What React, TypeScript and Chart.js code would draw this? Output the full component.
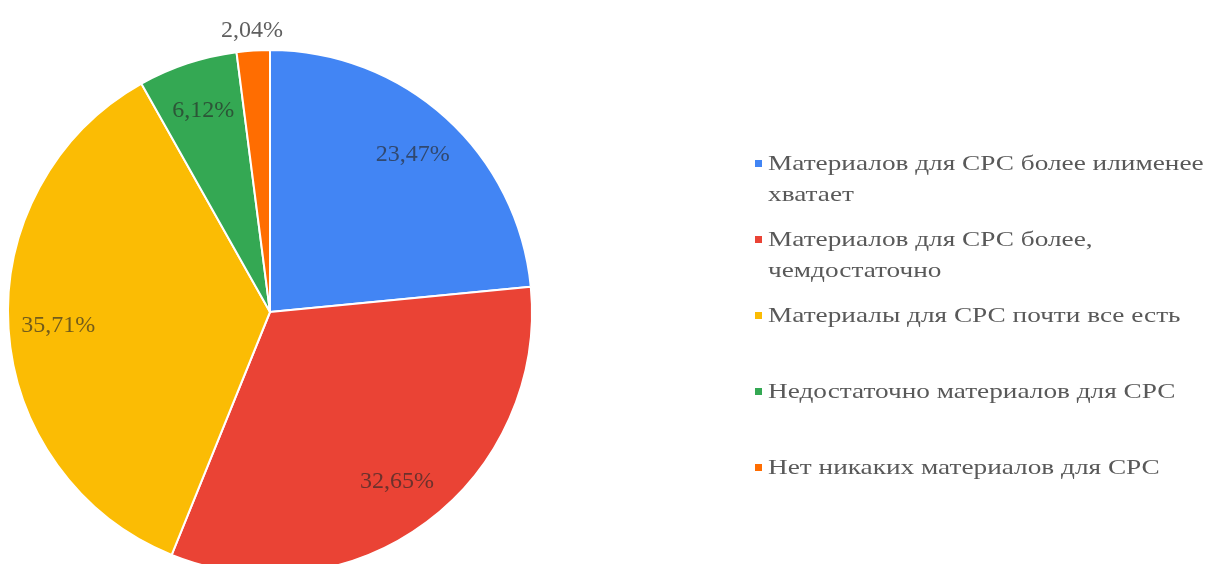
import React, { useEffect, useRef } from "react";
import { Chart, registerables } from "chart.js";

Chart.register(...registerables);

const categories: string[][] = [
  ["Материалов для СРС более илименее", "хватает"],
  ["Материалов для СРС более,", "чемдостаточно"],
  ["Материалы для СРС почти все есть"],
  ["Недостаточно материалов для СРС"],
  ["Нет никаких материалов для СРС"],
];
const counts: number[] = [23, 32, 35, 6, 2];
const percentLabels: string[] = ["23,47%", "32,65%", "35,71%", "6,12%", "2,04%"];
const colors: string[] = ["#4285F4", "#EA4335", "#FBBC04", "#34A853", "#FF6D01"];

const FONT = "'Liberation Serif', 'Times New Roman', serif";

const sliceLabels = {
  id: "sliceLabels",
  afterDatasetsDraw(chart: any) {
    const ctx = chart.ctx;
    const meta = chart.getDatasetMeta(0);
    const total = counts.reduce((a, b) => a + b, 0);
    ctx.save();
    ctx.font = `24px ${FONT}`;
    ctx.textAlign = "center";
    ctx.textBaseline = "middle";
    meta.data.forEach((arc: any, i: number) => {
      const { x, y, startAngle, endAngle, outerRadius } = arc.getProps(
        ["x", "y", "startAngle", "endAngle", "outerRadius"],
        true
      );
      const mid = (startAngle + endAngle) / 2;
      const small = counts[i] / total < 0.03;
      const r = small ? outerRadius + 20 : outerRadius * 0.81;
      ctx.fillStyle = small ? "#5f5f5f" : "rgba(40,40,40,0.65)";
      ctx.fillText(percentLabels[i], x + Math.cos(mid) * r, y + Math.sin(mid) * r);
    });
    ctx.restore();
  },
};

const sideLegend = {
  id: "sideLegend",
  afterDraw(chart: any) {
    const ctx = chart.ctx;
    const startY = 164;
    const step = 76;
    const lineGap = 31;
    const textX = 768;
    const stretch = 1.24;
    chart.data.labels.forEach((lines: string[], i: number) => {
      const y0 = startY + i * step;
      ctx.save();
      ctx.fillStyle = colors[i];
      ctx.fillRect(textX - 13, y0 - 4, 7, 7);
      ctx.restore();
      lines.forEach((ln: string, j: number) => {
        ctx.save();
        ctx.font = `22px ${FONT}`;
        ctx.textAlign = "left";
        ctx.textBaseline = "middle";
        ctx.fillStyle = "#595959";
        ctx.translate(textX, y0 + j * lineGap);
        ctx.scale(stretch, 1);
        ctx.fillText(ln, 0, 0);
        ctx.restore();
      });
    });
  },
};

export default function App() {
  const ref = useRef<HTMLCanvasElement | null>(null);
  useEffect(() => {
    document.body.style.margin = "0";
    document.body.style.overflow = "hidden";
    const chart = new Chart(ref.current as HTMLCanvasElement, {
      type: "pie",
      data: {
        labels: categories as any,
        datasets: [
          {
            data: counts,
            backgroundColor: colors,
            borderColor: "#ffffff",
            borderWidth: 2,
          },
        ],
      },
      options: {
        animation: false,
        responsive: false,
        radius: 262,
        layout: { padding: { left: 8, top: 50, right: 676, bottom: 10 } },
        plugins: {
          legend: { display: false },
          tooltip: { enabled: false },
        },
      } as any,
      plugins: [sliceLabels, sideLegend],
    });
    return () => chart.destroy();
  }, []);
  return (
    <div style={{ width: 1208, height: 564, overflow: "hidden", background: "#fff" }}>
      <canvas ref={ref} width={1208} height={584} />
    </div>
  );
}
